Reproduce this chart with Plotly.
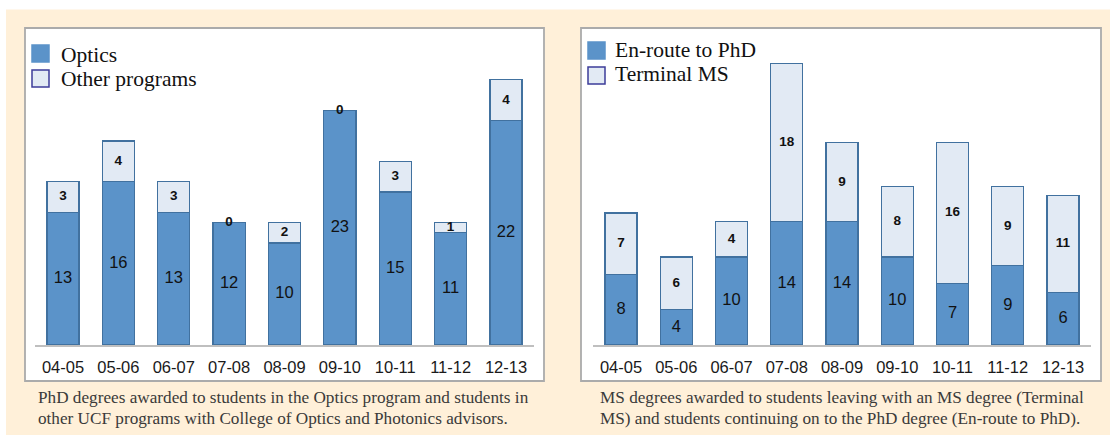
import plotly.graph_objects as go

# ---------------- data ----------------
years = ["04-05", "05-06", "06-07", "07-08", "08-09", "09-10", "10-11", "11-12", "12-13"]
phd_optics = [13, 16, 13, 12, 10, 23, 15, 11, 22]
phd_other = [3, 4, 3, 0, 2, 0, 3, 1, 4]
ms_enroute = [8, 4, 10, 14, 14, 10, 7, 9, 6]
ms_terminal = [7, 6, 4, 18, 9, 8, 16, 9, 11]

left_legend = ["Optics", "Other programs"]
right_legend = ["En-route to PhD", "Terminal MS"]
left_caption = ["PhD degrees awarded to students in the Optics program and students in",
                "other UCF programs with College of Optics and Photonics advisors."]
right_caption = ["MS degrees awarded to students leaving with an MS degree (Terminal",
                 "MS) and students continuing on to the PhD degree (En-route to PhD)."]

# ---------------- style ----------------
W, H = 1110, 435
DARK = "#5B93C9"
LIGHT = "#E2EAF4"
EDGE = "#41719F"
BEIGE = "#FFF0D9"
SANS = "Liberation Sans, Arial, sans-serif"
SERIF = "Liberation Serif, Times New Roman, serif"


def px(x):
    return x / W


def py(y):
    return 1 - y / H


fig = go.Figure()


def add_stack(bottom, top, xa, ya, name_b, name_t):
    fig.add_trace(go.Bar(x=years, y=bottom, name=name_b, marker=dict(color=DARK, line=dict(color=EDGE, width=1.2)),
                         width=0.58, xaxis=xa, yaxis=ya, showlegend=False, hoverinfo="x+y+name"))
    fig.add_trace(go.Bar(x=years, y=top, name=name_t, marker=dict(color=LIGHT, line=dict(color=EDGE, width=1.2)),
                         width=0.58, xaxis=xa, yaxis=ya, showlegend=False, hoverinfo="x+y+name"))
    mid_b = [b / 2 for b in bottom]
    mid_t = [b + t / 2 for b, t in zip(bottom, top)]
    fig.add_trace(go.Scatter(x=years, y=mid_b, text=[str(v) for v in bottom], mode="text",
                             textfont=dict(family=SANS, size=16.5, color="#111111"),
                             xaxis=xa, yaxis=ya, showlegend=False, hoverinfo="skip", cliponaxis=False))
    fig.add_trace(go.Scatter(x=years, y=mid_t, text=["<b>%d</b>" % v for v in top], mode="text",
                             textfont=dict(family=SANS, size=13.5, color="#111111"),
                             xaxis=xa, yaxis=ya, showlegend=False, hoverinfo="skip", cliponaxis=False))


add_stack(phd_optics, phd_other, "x", "y", left_legend[0], left_legend[1])
add_stack(ms_enroute, ms_terminal, "x2", "y2", right_legend[0], right_legend[1])

base_y = 345
top_y = 40
xaxis_common = dict(type="category", showline=True, linecolor="#BFBFBF", linewidth=1.5, showgrid=False,
                    zeroline=False, ticks="", ticklabelstandoff=6,
                    tickfont=dict(family=SANS, size=16.5, color="#1a1a1a"), fixedrange=True)
yaxis_common = dict(visible=False, showgrid=False, zeroline=False, fixedrange=True)

fig.update_layout(
    width=W, height=H,
    margin=dict(l=0, r=0, t=0, b=0),
    paper_bgcolor="white",
    plot_bgcolor="rgba(0,0,0,0)",
    barmode="stack",
    xaxis=dict(domain=[px(35.3), px(533.7)], anchor="y", range=[-0.5, 8.5], **xaxis_common),
    yaxis=dict(domain=[py(base_y), py(top_y)], anchor="x", range=[0, (base_y - top_y) / 10.2], **yaxis_common),
    xaxis2=dict(domain=[px(593.4), px(1090.6)], anchor="y2", range=[-0.5, 8.5], **xaxis_common),
    yaxis2=dict(domain=[py(base_y), py(top_y)], anchor="x2", range=[0, (base_y - top_y) / 8.8], **yaxis_common),
    showlegend=False,
)

shapes = []
# beige background panel
shapes.append(dict(type="rect", xref="paper", yref="paper", x0=px(6), x1=px(1110), y0=py(435), y1=py(9.5),
                   fillcolor=BEIGE, line=dict(width=0), layer="below"))
# white chart boxes
for x0, x1 in [(25, 544), (581, 1101)]:
    shapes.append(dict(type="rect", xref="paper", yref="paper", x0=px(x0), x1=px(x1), y0=py(381), y1=py(28),
                       fillcolor="white", line=dict(color="#ABABAB", width=1.8), layer="below"))

annotations = []


def legend_block(sq_x, txt_x, rows, labels):
    for (ytop, ycen), lab, i in zip(rows, labels, range(2)):
        fill = DARK if i == 0 else LIGHT
        lc = DARK if i == 0 else "#3D3D99"
        shapes.append(dict(type="rect", xref="paper", yref="paper", x0=px(sq_x), x1=px(sq_x + 17),
                           y0=py(ytop + 17), y1=py(ytop), fillcolor=fill, line=dict(color=lc, width=1.5)))
        annotations.append(dict(xref="paper", yref="paper", x=px(txt_x), y=py(ycen), text=lab, showarrow=False,
                                xanchor="left", yanchor="middle",
                                font=dict(family=SERIF, size=21.5, color="#111111")))


legend_block(32, 59, [(45, 55), (70, 79)], left_legend)
legend_block(588, 613, [(42, 50), (67, 74)], right_legend)

for x0, lines in [(36, left_caption), (598, right_caption)]:
    for yy, line in zip([397, 418], lines):
        annotations.append(dict(xref="paper", yref="paper", x=px(x0), y=py(yy), text=line, showarrow=False,
                                xanchor="left", yanchor="middle",
                                font=dict(family=SERIF, size=17.2, color="#3a3a3a")))

fig.update_layout(shapes=shapes, annotations=annotations)

fig.write_html("out.html", config={"displayModeBar": False},
               post_script="document.body.style.margin='0';document.body.style.overflow='hidden';")
